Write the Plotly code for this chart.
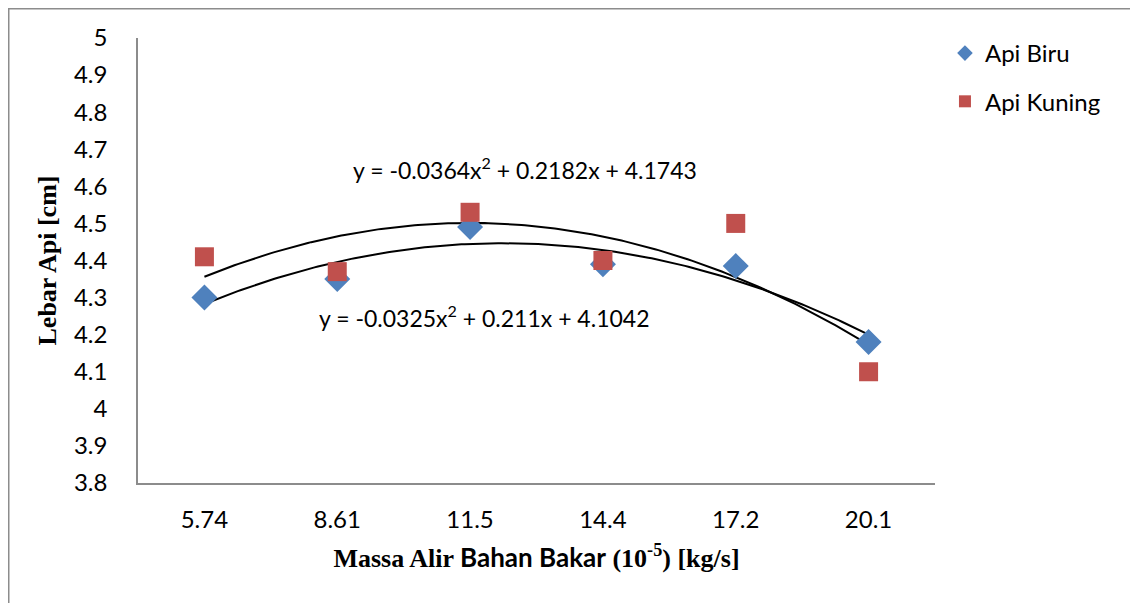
import numpy as np
import plotly.graph_objects as go

categories = ["5.74", "8.61", "11.5", "14.4", "17.2", "20.1"]
api_biru = [4.30, 4.35, 4.49, 4.39, 4.385, 4.18]
api_kuning = [4.41, 4.37, 4.53, 4.40, 4.50, 4.10]
# polynomial trendline coefficients (a, b, c) for y = a x^2 + b x + c, x = category index 1..6
coef_biru = [-0.0325, 0.211, 4.1042]
coef_kuning = [-0.0364, 0.2182, 4.1743]
y_ticks = [3.8, 3.9, 4.0, 4.1, 4.2, 4.3, 4.4, 4.5, 4.6, 4.7, 4.8, 4.9, 5.0]
y_tick_text = ["3.8", "3.9", "4", "4.1", "4.2", "4.3", "4.4", "4.5", "4.6", "4.7", "4.8", "4.9", "5"]

xi = list(range(1, len(categories) + 1))
xs = np.linspace(1, len(categories), 200)

SANS = "Lato, Calibri, 'Open Sans', sans-serif"
SERIF = "'Liberation Serif', 'Times New Roman', serif"

# page body has an 8px margin: figure is 1130x595 so it ends at the window edge
W, H = 1130, 595
L, R, T, B = 130, 203, 30, 120
PW, PH = W - L - R, H - T - B

fig = go.Figure()
for coef in (coef_kuning, coef_biru):
    fig.add_trace(go.Scatter(
        x=xs, y=np.polyval(coef, xs), mode="lines",
        line=dict(color="black", width=2), showlegend=False, hoverinfo="skip"))

fig.add_trace(go.Scatter(
    x=xi, y=api_biru, mode="markers", name="Api Biru", legendgroup="a",
    marker=dict(symbol="diamond", size=20, color="#4F81BD")))
fig.add_trace(go.Scatter(
    x=xi, y=api_kuning, mode="markers", name="Api Kuning", legendgroup="b",
    marker=dict(symbol="square", size=19, color="#C0504D")))

def eq_text(c):
    return f"y = {c[0]}x<sup>2</sup> + {c[1]}x + {c[2]}"

fig.add_annotation(x=3.41, y=4.649, xref="x", yref="y", text=eq_text(coef_kuning),
                   showarrow=False, font=dict(family=SANS, size=23, color="black"))
fig.add_annotation(x=3.11, y=4.25, xref="x", yref="y", text=eq_text(coef_biru),
                   showarrow=False, font=dict(family=SANS, size=23, color="black"))

fig.add_shape(type="rect", xref="paper", yref="paper",
              x0=(0.75 - L) / PW, x1=(W + 20 - L) / PW,
              y0=(PH - (H + 20 - T)) / PH, y1=(PH + T - 0.75) / PH,
              line=dict(color="#8c8c8c", width=1.5), layer="below")

fig.update_layout(
    width=W, height=H, autosize=False,
    margin=dict(l=L, r=R, t=T, b=B),
    paper_bgcolor="white", plot_bgcolor="white",
    font=dict(family=SANS, size=24, color="black"),
    legend=dict(x=1.0125, y=1.0157, xanchor="left", yanchor="top",
                font=dict(family=SANS, size=24), tracegroupgap=14,
                itemsizing="constant", bgcolor="rgba(0,0,0,0)"),
    xaxis=dict(range=[0.5, 6.5], tickvals=xi, ticktext=categories,
               showgrid=False, zeroline=False, showline=True,
               linecolor="#8c8c8c", linewidth=1.5, ticks="",
               ticklabelstandoff=14, tickfont=dict(size=24),
               title=dict(text="Massa Alir <span style='font-family:Lato, Calibri, sans-serif'>Bahan Bakar</span> (10<sup>-5</sup>) [kg/s]",
                          font=dict(family=SERIF, size=26, weight="bold"), standoff=17)),
    yaxis=dict(range=[3.8, 5.0], tickvals=y_ticks, ticktext=y_tick_text,
               showgrid=False, zeroline=False, showline=True,
               linecolor="#8c8c8c", linewidth=1.5, ticks="",
               ticklabelstandoff=24, tickfont=dict(size=24),
               title=dict(text="Lebar Api [cm]", font=dict(family=SERIF, size=26, weight="bold"),
                          standoff=10)),
)

fig.write_html("out.html")
